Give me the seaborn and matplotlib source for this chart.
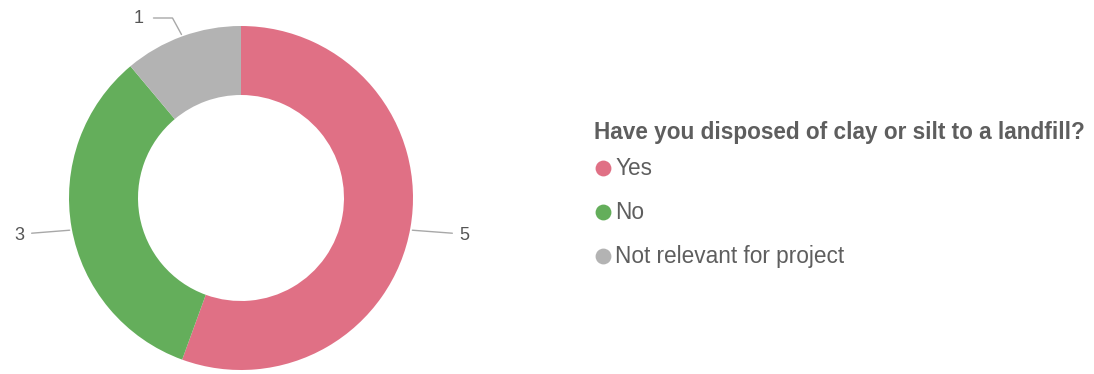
import numpy as np
import matplotlib
matplotlib.use("Agg")
import matplotlib.pyplot as plt
import seaborn as sns

# Survey answers
categories = ["Yes", "No", "Not relevant for project"]
counts = [5, 3, 1]
colors = ["#E07085", "#64AE5B", "#B3B3B3"]
question = "Have you disposed of clay or silt to a landfill?"

sns.set_theme(style="white")
plt.rcParams["font.family"] = ["Liberation Sans", "DejaVu Sans"]

W, H = 1094, 374
fig = plt.figure(figsize=(W / 100, H / 100), dpi=100)
ax = fig.add_axes([0, 0, 1, 1])

cx, cy = 241, 176
r_out, r_in = 172, 103
wedges, _ = ax.pie(
    counts, colors=colors, startangle=90, counterclock=False,
    center=(cx, cy), radius=r_out,
    wedgeprops=dict(width=r_out - r_in, linewidth=0),
)

# Value labels with leader lines
line_kw = dict(color="#A8A8A8", lw=1.0, solid_capstyle="round")
txt_kw = dict(fontsize=13, color="#555555", va="center")
for w, v in zip(wedges, counts):
    mid = np.deg2rad((w.theta1 + w.theta2) / 2)
    px = cx + (r_out + 2) * np.cos(mid)
    py = cy + (r_out + 2) * np.sin(mid) - 2
    if np.sin(mid) > 0.6:
        # slice near the top: elbow up then out to the left
        ex, ey = px - 9, H - 18
        ax.plot([px, ex, ex - 19], [py + 2, ey, ey], **line_kw)
        ax.text(ex - 29, ey, str(v), ha="right", **txt_kw)
    elif np.cos(mid) > 0:
        ex, ey = px + 40, py - 3
        ax.plot([px, ex], [py, ey], **line_kw)
        ax.text(ex + 7, ey - 2, str(v), ha="left", **txt_kw)
    else:
        ex, ey = px - 38, py - 3
        ax.plot([px, ex], [py, ey], **line_kw)
        ax.text(ex - 7, ey - 2, str(v), ha="right", **txt_kw)

# Legend
lx, ly = 594, H - 132
ax.text(lx, ly, question, fontsize=16.3, fontweight="bold", color="#5E5E5E",
        ha="left", va="center")
for i, (cat, col) in enumerate(zip(categories, colors)):
    y = H - (168 + 44 * i)
    ax.scatter([lx + 9], [y], s=130, color=col, linewidths=0)
    ax.text(lx + 21, y, cat, fontsize=16.3, color="#5E5E5E", ha="left", va="center")

ax.set_xlim(0, W)
ax.set_ylim(0, H)
ax.set_aspect("equal")
ax.axis("off")

fig.savefig("out.png", dpi=100, facecolor="white")
